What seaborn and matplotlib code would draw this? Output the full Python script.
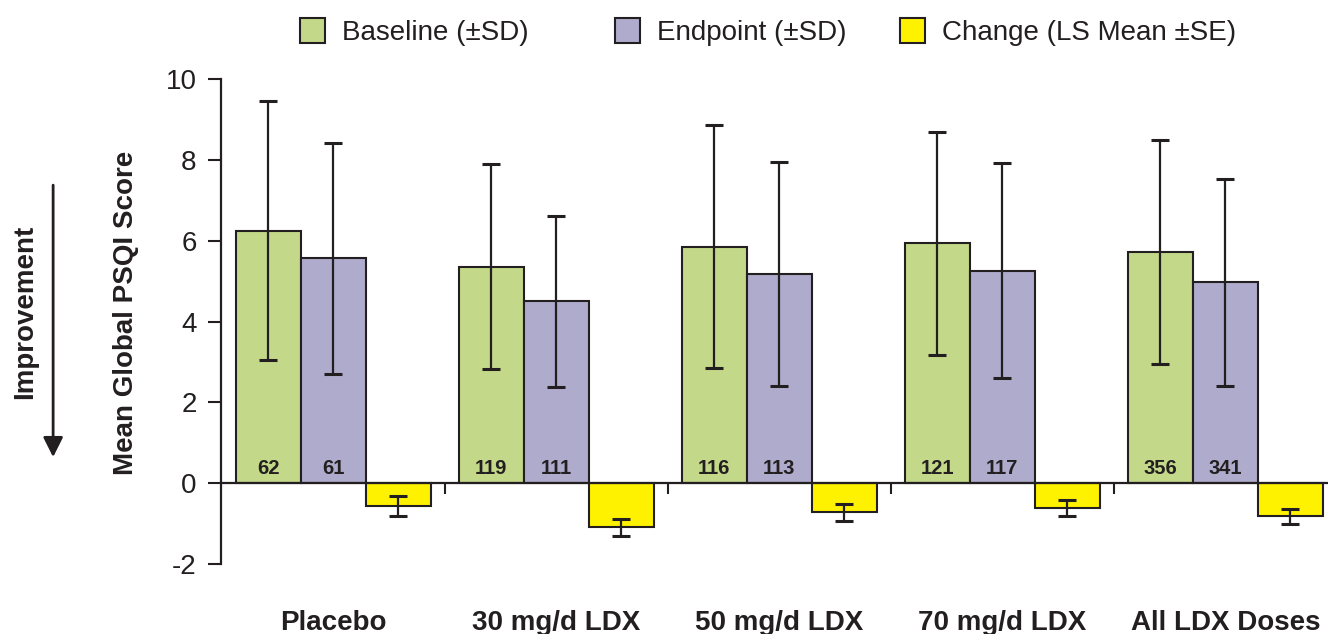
import matplotlib
matplotlib.use("Agg")
import matplotlib.pyplot as plt
import seaborn as sns
import pandas as pd
from matplotlib.patches import Patch

# ---- data ----
groups = ["Placebo", "30 mg/d LDX", "50 mg/d LDX", "70 mg/d LDX", "All LDX Doses"]
measures = ["Baseline (\u00b1SD)", "Endpoint (\u00b1SD)", "Change (LS Mean \u00b1SE)"]
baseline = [6.25, 5.36, 5.85, 5.93, 5.73]
baseline_sd = [3.20, 2.54, 3.00, 2.76, 2.77]
endpoint = [5.56, 4.50, 5.18, 5.26, 4.97]
endpoint_sd = [2.85, 2.12, 2.77, 2.67, 2.56]
change = [-0.56, -1.09, -0.72, -0.62, -0.82]
change_se = [0.24, 0.21, 0.21, 0.20, 0.19]
n_baseline = [62, 119, 116, 121, 356]
n_endpoint = [61, 111, 113, 117, 341]
yticks = [-2, 0, 2, 4, 6, 8, 10]

colors = ["#C3D889", "#AEABCC", "#FFF200"]
ink = "#231f20"

sns.set_style("white")
plt.rcParams["font.family"] = ["Liberation Sans", "DejaVu Sans"]
plt.rcParams["text.color"] = ink

rows = []
for vals, m in zip([baseline, endpoint, change], measures):
    for g, v in zip(groups, vals):
        rows.append({"group": g, "measure": m, "value": v})
df = pd.DataFrame(rows)

fig = plt.figure(figsize=(13.28, 6.34), dpi=100)
ax = fig.add_axes([0.1664, 0.1104, 1.0 - 0.1664, 0.765])

sns.barplot(data=df, x="group", y="value", hue="measure", hue_order=measures,
            order=groups, palette=colors, saturation=1, width=0.874, gap=0,
            errorbar=None, edgecolor=ink, linewidth=1.5, legend=False, ax=ax,
            zorder=2)

errs = [baseline_sd, endpoint_sd, change_se]
means = [baseline, endpoint, change]
centers = []
for cont, m, e in zip(ax.containers, means, errs):
    xs = [p.get_x() + p.get_width() / 2 for p in cont]
    centers.append(xs)
    ax.errorbar(xs, m, yerr=e, fmt="none", ecolor=ink, elinewidth=1.6,
                capsize=6.8, capthick=2.2, zorder=3)

for xs, ns in zip(centers[:2], [n_baseline, n_endpoint]):
    for x, n in zip(xs, ns):
        ax.annotate(str(n), xy=(x, 0), xytext=(0, 3.5), textcoords="offset points",
                    ha="center", va="bottom", fontsize=14.5, fontweight="bold",
                    color=ink, zorder=4)

ax.set_xlim(-0.504, 4.46)
ax.set_ylim(-2, 10)
ax.set_yticks(yticks)
ax.set_yticklabels([str(t) for t in yticks], fontsize=20)
ax.tick_params(axis="y", direction="out", length=9.5, width=1.5, pad=8,
               color=ink, labelcolor=ink, left=True)

for s in ["top", "right"]:
    ax.spines[s].set_visible(False)
ax.spines["left"].set_color(ink)
ax.spines["left"].set_linewidth(1.6)
ax.spines["bottom"].set_position(("data", 0))
ax.spines["bottom"].set_color(ink)
ax.spines["bottom"].set_linewidth(1.6)

ax.set_xticks(range(len(groups)))
ax.set_xticklabels(groups, fontsize=20, fontweight="bold")
ax.set_xticks([i + 0.5 for i in range(len(groups) - 1)], minor=True)
ax.tick_params(axis="x", which="major", length=0, pad=91, labelcolor=ink, bottom=True)
ax.tick_params(axis="x", which="minor", direction="out", length=8, width=1.5,
               color=ink, bottom=True)
ax.set_xlabel("")

ax.set_ylabel("Mean Global PSQI Score", fontsize=20, fontweight="bold", color=ink)
ax.yaxis.set_label_coords(-0.0855, 0.5175)
ax.yaxis.label.set_va("center")

# Improvement arrow and text
fig.text(0.019, 0.508, "Improvement", rotation=90, ha="center", va="center",
         fontsize=20, fontweight="bold", color=ink)
ax.annotate("", xy=(0.040, 0.279), xytext=(0.040, 0.708),
            xycoords="figure fraction", textcoords="figure fraction",
            arrowprops=dict(arrowstyle="-|>", lw=2, color=ink, mutation_scale=30,
                            shrinkA=0, shrinkB=0))

# legend: three separately positioned entries
lx = [300 / 1328, 615 / 1328, 900 / 1328]
for x0, c, lab in zip(lx, colors, measures):
    h = Patch(facecolor=c, edgecolor=ink, linewidth=1.5)
    fig.legend(handles=[h], labels=[lab], loc="center left",
               bbox_to_anchor=(x0, 1 - 32 / 634), frameon=False, fontsize=20,
               handlelength=0.9, handleheight=1.0, handletextpad=0.6,
               borderpad=0, borderaxespad=0)

fig.savefig("out.png", dpi=100, facecolor="white")
